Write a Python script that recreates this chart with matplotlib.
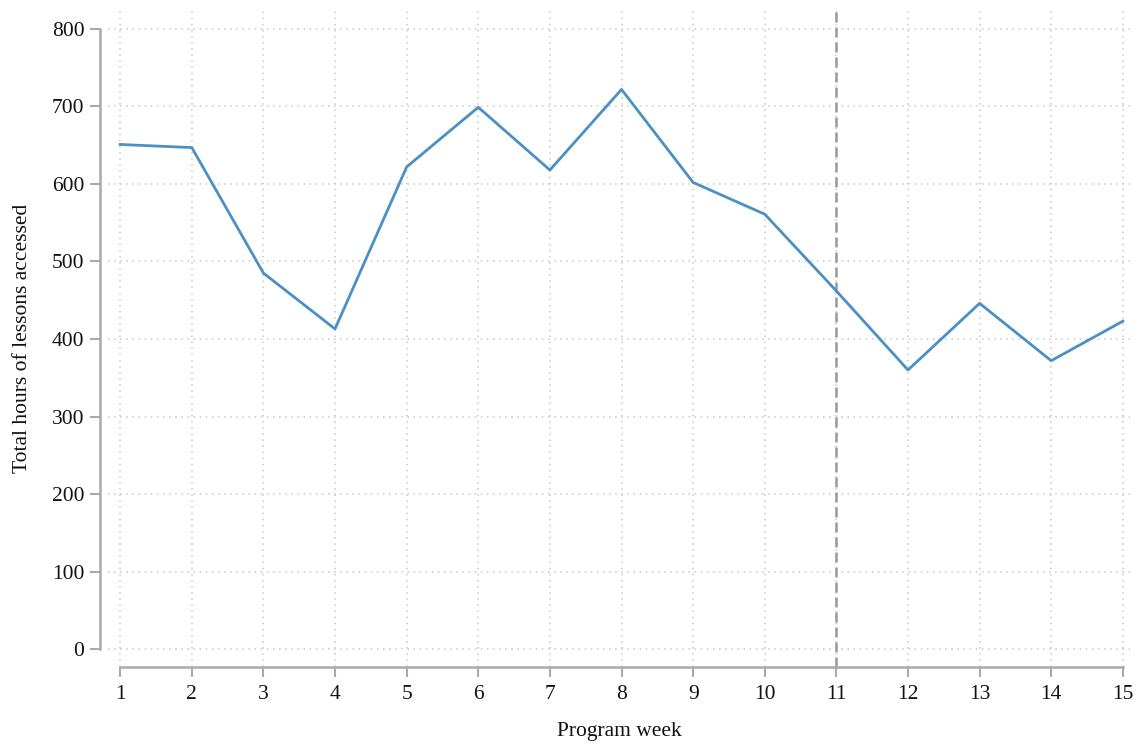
import numpy as np
import matplotlib
matplotlib.use("Agg")
import matplotlib.pyplot as plt

plt.rcParams['font.family'] = ['Liberation Serif', 'DejaVu Serif']

weeks = [1, 2, 3, 4, 5, 6, 7, 8, 9, 10, 11, 12, 13, 14, 15]
hours = [651, 647, 485, 413, 622, 699, 618, 722, 602, 561, 462, 360, 446, 372, 423]
y_ticks = [0, 100, 200, 300, 400, 500, 600, 700, 800]
marker_week = 11

fig = plt.figure(figsize=(11.4, 7.46), dpi=100)
ax = fig.add_axes([108 / 1140, 1 - 667 / 746, (1130 - 108) / 1140, (667 - 10) / 746])

ax.plot(weeks, hours, color='#4a90c4', linewidth=2, zorder=3)
ax.axvline(marker_week, color='#999999', linestyle=(0, (4, 2)), linewidth=1.8, zorder=2)

ax.set_xlim(0.83, 15.1)
ax.set_ylim(-23.2, 824.5)
ax.set_xticks(weeks)
ax.set_yticks(y_ticks)

ax.grid(True, color='#c8c8c8', linestyle=(0, (1, 3)), linewidth=1.1)
ax.set_axisbelow(True)

for s in ['top', 'right']:
    ax.spines[s].set_visible(False)
ax.spines['left'].set_position(('outward', 6))
ax.spines['left'].set_bounds(0, 800)
ax.spines['bottom'].set_bounds(1, 15)
for s in ['left', 'bottom']:
    ax.spines[s].set_color('#aaaaaa')
    ax.spines[s].set_linewidth(1.8)

ax.tick_params(axis='both', colors='#aaaaaa', length=7, width=1.5, labelcolor='#111111', labelsize=15.5)
ax.tick_params(axis='x', pad=6)
ax.tick_params(axis='y', pad=4)

ax.set_xlabel('Program week', fontsize=15.5, color='#111111', labelpad=13)
ax.set_ylabel('Total hours of lessons accessed', fontsize=15.5, color='#111111', labelpad=14)

fig.savefig('out.png', dpi=100)
